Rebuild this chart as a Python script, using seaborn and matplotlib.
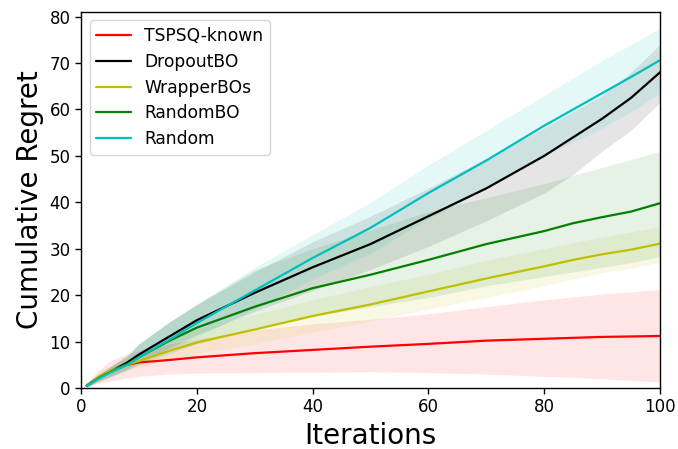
import numpy as np
import matplotlib
matplotlib.use("Agg")
from matplotlib import pyplot as plt
import seaborn as sns

iters = [1, 3, 5, 8, 10, 15, 20, 30, 40, 50, 60, 70, 80, 85, 90, 95, 100]

names = ["TSPSQ-known", "DropoutBO", "WrapperBOs", "RandomBO", "Random"]
colors = ["r", "k", "y", "g", "c"]

red_mean = [0.5, 2.3, 3.6, 5.0, 5.5, 6.0, 6.6, 7.5, 8.2, 8.9, 9.5, 10.2, 10.6, 10.8, 11.0, 11.1, 11.2]
red_lo   = [0.2, 1.0, 1.5, 2.2, 2.5, 3.0, 3.2, 3.3, 3.4, 3.5, 3.3, 3.0, 2.5, 2.3, 2.0, 1.6, 1.3]
red_hi   = [0.9, 3.8, 5.8, 7.4, 8.0, 9.4, 10.5, 12.5, 13.8, 14.8, 16.0, 17.5, 19.0, 19.6, 20.2, 20.7, 21.2]

black_mean = [0.5, 2.2, 3.5, 5.5, 7.2, 10.9, 14.6, 20.5, 26.0, 31.0, 37.0, 43.0, 50.0, 54.0, 58.0, 62.5, 68.0]
black_lo   = [0.2, 1.5, 2.5, 4.2, 5.5, 8.5, 11.5, 16.5, 21.0, 25.5, 30.5, 36.0, 42.0, 46.0, 51.0, 55.5, 61.5]
black_hi   = [0.9, 3.0, 4.6, 6.9, 9.5, 14.0, 18.0, 25.0, 31.5, 37.0, 43.0, 49.5, 56.0, 59.5, 63.0, 68.0, 74.0]

yellow_mean = [0.5, 2.4, 3.7, 5.0, 5.8, 7.9, 9.8, 12.6, 15.5, 18.0, 20.8, 23.6, 26.2, 27.6, 28.8, 29.8, 31.1]
yellow_lo   = [0.2, 1.5, 2.6, 3.8, 4.5, 6.0, 7.5, 9.5, 12.0, 14.5, 17.0, 19.5, 22.0, 23.5, 24.8, 25.8, 27.0]
yellow_hi   = [0.9, 3.3, 4.8, 6.4, 7.5, 10.0, 12.5, 15.8, 19.0, 21.8, 24.5, 27.5, 30.0, 31.3, 32.5, 33.6, 34.8]

green_mean = [0.5, 2.1, 3.4, 5.2, 6.6, 10.0, 13.0, 17.5, 21.5, 24.4, 27.6, 31.0, 33.8, 35.5, 36.8, 38.0, 39.8]
green_lo   = [0.2, 1.4, 2.4, 3.9, 5.0, 7.3, 9.5, 13.0, 15.5, 17.5, 19.5, 22.0, 24.0, 25.0, 26.0, 27.0, 28.3]
green_hi   = [0.9, 2.9, 4.5, 7.2, 9.5, 14.0, 18.0, 25.5, 30.0, 34.0, 38.0, 41.0, 44.0, 45.8, 47.5, 49.2, 51.0]

cyan_mean = [0.5, 2.0, 3.3, 5.0, 6.6, 10.2, 14.0, 21.0, 28.0, 34.5, 42.0, 49.0, 56.5, 60.0, 63.5, 67.0, 70.6]
cyan_lo   = [0.2, 1.3, 2.3, 3.8, 5.0, 8.0, 11.0, 17.0, 23.5, 29.0, 36.5, 43.0, 50.0, 53.0, 56.0, 59.5, 63.5]
cyan_hi   = [0.9, 2.8, 4.4, 6.6, 9.5, 14.0, 18.0, 26.0, 33.0, 40.0, 48.0, 55.5, 63.0, 66.8, 70.5, 74.0, 77.5]

means = [red_mean, black_mean, yellow_mean, green_mean, cyan_mean]
lows = [red_lo, black_lo, yellow_lo, green_lo, cyan_lo]
highs = [red_hi, black_hi, yellow_hi, green_hi, cyan_hi]

sns.set_style("ticks", {"axes.edgecolor": "black", "xtick.color": "black",
                        "ytick.color": "black", "text.color": "black",
                        "axes.labelcolor": "black"})
plt.rcParams['font.family'] = ['DejaVu Sans']

fig = plt.figure(figsize=(6.78, 4.49), dpi=100)
ax = fig.add_axes([0.1195, 0.1359, 0.854, 0.8375])

for name, c, m, lo, hi in zip(names, colors, means, lows, highs):
    sns.lineplot(x=iters, y=m, color=c, label=name, linewidth=1.6, ax=ax)
    ax.fill_between(iters, lo, hi, color=c, alpha=0.1, linewidth=0)

ax.set_xlim(0, 100)
ax.set_ylim(0, 81)
ax.set_yticks([0, 10, 20, 30, 40, 50, 60, 70, 80])
ax.tick_params(labelsize=12, direction="out", length=4, width=1)
ax.set_xlabel("Iterations", fontsize=20)
ax.set_ylabel("Cumulative Regret", fontsize=20)
for s in ax.spines.values():
    s.set_linewidth(1)
ax.legend(loc="upper left", fontsize=12.3, labelspacing=0.45)

fig.savefig("out.png", dpi=100)
